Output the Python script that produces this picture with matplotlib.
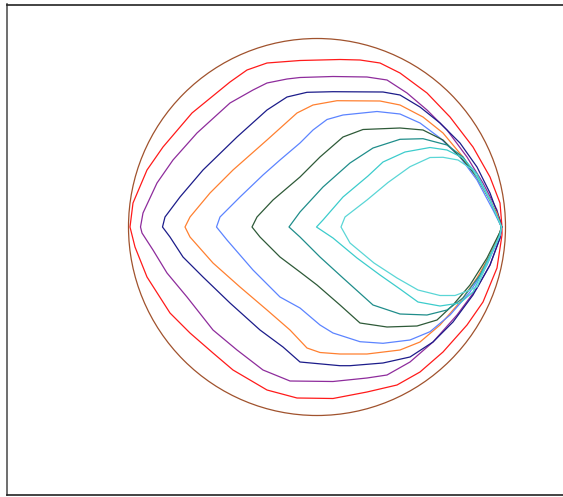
import matplotlib
matplotlib.use("Agg")
import matplotlib.pyplot as plt
from matplotlib.patches import Circle

# Boundary circle (centre, radius) in chart units
circle_center = (0.0, 0.0)
circle_radius = 188.5

# Nested level curves, each a closed loop: upper half (right -> left), lower half (left -> right)
red_x = [185, 183, 173, 156, 133, 110, 83, 63, 43, 23, -17, -50, -70, -87, -125, -154, -170, -184, -187,
         -182, -170, -147, -127, -104, -84, -50, -20, 16, 50, 80, 103, 126, 150, 166, 180, 185, 185]
red_y = [0, 24, 50, 80, 110, 134, 154, 164, 167, 167.5, 166.5, 164, 157, 145, 114, 80, 57, 24, 0,
         -20, -50, -86, -106, -126, -143, -163, -171, -171.5, -165, -158, -145, -125, -98, -75, -41, -8, 0]

purple_x = [184.5, 180, 166, 150, 130, 110, 90, 70, 50, 16, -17, -30, -50, -64, -87, -120, -144, -160, -174, -176.5,
            -175, -164, -150, -130, -104, -80, -54, -27, 16, 50, 70, 93, 116, 140, 160, 173, 183, 184.5]
purple_y = [0, 17, 44, 70, 97, 117, 134, 147, 150, 150.5, 149.5, 148, 144, 137, 124, 94, 67, 44, 14, 0,
            -6, -23, -46, -70, -103, -123, -143, -154, -154.5, -151, -148, -135, -115, -88, -61, -38, -11, 0]

navy_x = [184.5, 183, 173, 160, 143, 123, 103, 83, 66, 16, -10, -30, -50, -80, -114, -137, -152, -154.5,
          -147, -134, -114, -87, -57, -34, -17, 23, 33, 66, 93, 116, 136, 156, 173, 183, 184.5]
navy_y = [0, 7, 34, 60, 84, 104, 120, 132, 135, 135.3, 134.7, 130, 117, 90, 57, 30, 10, 0,
          -10, -30, -50, -76, -103, -120, -135, -138.7, -138.7, -136, -130, -115, -95, -68, -38, -11, 0]

orange_x = [184.5, 180, 163, 146, 126, 106, 83, 63, 20, -4, -20, -50, -84, -107, -127, -132,
            -127, -104, -77, -50, -27, -10, 3, 23, 50, 83, 103, 123, 143, 160, 173, 183, 184.5]
orange_y = [0, 14, 44, 70, 94, 110, 122, 126, 126.3, 122, 114, 87, 57, 34, 10, 0,
            -10, -36, -60, -83, -103, -121, -125.5, -127, -127, -123, -115, -98, -75, -51, -28, -5, 0]

blue_x = [184.5, 176, 160, 143, 123, 103, 83, 60, 26, 10, -4, -17, -37, -54, -77, -97, -100.5,
          -90, -64, -37, -17, 3, 16, 43, 66, 93, 113, 133, 153, 170, 183, 184.5]
blue_y = [0, 17, 47, 70, 89, 104, 113, 115.5, 112, 107.5, 97, 84, 67, 52, 30, 10, 0,
          -13, -43, -70, -81, -98, -106, -114.7, -116.3, -113, -104.7, -88, -65, -38, -8, 0]

green_x = [184.5, 183, 173, 160, 146, 126, 106, 83, 46, 26, 3, -17, -44, -60, -65,
           -57, -37, -17, 0, 23, 43, 70, 100, 120, 136, 153, 170, 183, 184.5]
green_y = [0, 4, 27, 50, 67, 87, 97, 99, 97.5, 90, 70, 50, 27, 10, 0,
           -10, -30, -45, -58, -78, -96, -100, -99, -93, -78, -58, -31, -5, 0]

teal_x = [184.5, 173, 160, 146, 130, 106, 83, 56, 33, 6, -17, -28,
          -17, 3, 26, 56, 83, 110, 130, 146, 163, 180, 184.5]
teal_y = [0, 27, 50, 70, 82, 88.3, 87.7, 79, 64, 40, 15, 0,
          -10, -30, -51, -78, -87, -88, -83, -71, -48, -15, 0]

turq_x = [184.5, 173, 160, 146, 130, 113, 88, 66, 51, 26, 6, -0.5,
          16, 40, 63, 83, 101, 123, 143, 156, 170, 183, 184.5]
turq_y = [0, 27, 53, 69, 77, 79.5, 75, 65, 51, 30, 7, 0,
          -11, -31, -48, -62, -75, -79, -76, -65, -35, -8, 0]

lturq_x = [184.5, 173, 156, 141, 126, 113, 93, 71, 50, 28, 24,
           33, 57, 80, 101, 123, 138, 153, 160, 171, 183, 184.5]
lturq_y = [0, 27, 57, 67, 69.7, 69.5, 60.3, 44.5, 27, 10, 0,
           -16, -36, -51, -63, -68.5, -68.5, -63, -60, -35, -8, 0]

curves = [
    (red_x, red_y, "#ff1a1a"),
    (purple_x, purple_y, "#8e2c9c"),
    (navy_x, navy_y, "#1c1c8a"),
    (orange_x, orange_y, "#ff8030"),
    (blue_x, blue_y, "#5c84ff"),
    (green_x, green_y, "#2e5a38"),
    (teal_x, teal_y, "#1f8d8a"),
    (turq_x, turq_y, "#3ccccc"),
    (lturq_x, lturq_y, "#5ad6d6"),
]

fig = plt.figure(figsize=(5.63, 4.97), dpi=100)
ax = fig.add_axes([7 / 563, 2 / 497, 558 / 563, 490.5 / 497])

ax.add_patch(Circle(circle_center, circle_radius, fill=False, edgecolor="#a0522d", linewidth=0.9))
for xs, ys, col in curves:
    ax.plot(xs, ys, color=col, linewidth=0.9, solid_joinstyle="round")

ax.set_xlim(-310, 248)
ax.set_ylim(-268, 222.5)
ax.set_xticks([])
ax.set_yticks([])
ax.spines["right"].set_visible(False)
for s in ("left", "top", "bottom"):
    ax.spines[s].set_color("#222222")
    ax.spines[s].set_linewidth(1.2)
ax.spines["left"].set_color("#555555")

fig.savefig("out.png", dpi=100)
